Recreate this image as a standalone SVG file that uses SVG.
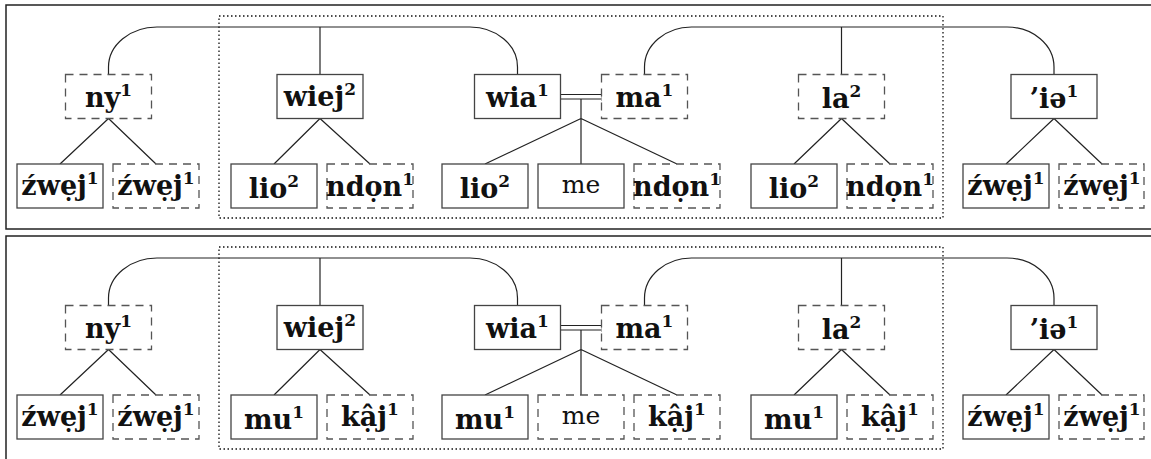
<svg xmlns="http://www.w3.org/2000/svg" width="1151" height="459" viewBox="0 0 1151 459">
<style>
.bg{fill:#fff}
.panel{fill:none;stroke:#222;stroke-width:1.5}
.group{fill:none;stroke:#111;stroke-width:1.3;stroke-dasharray:1.5 2.5}
.box{fill:#fff;stroke:#444;stroke-width:1.3}
.dash{fill:#fff;stroke:#555;stroke-width:1.3;stroke-dasharray:8 6}
.edge{fill:none;stroke:#222;stroke-width:1.2}
.lbl{font-family:"DejaVu Serif","Liberation Serif",serif;font-weight:bold;font-size:27px;text-anchor:middle;fill:#111}
.sup{font-size:17px}
.rm{font-family:"DejaVu Serif","Liberation Serif",serif;font-weight:normal;font-size:25px;text-anchor:middle;fill:#111}
</style>
<rect class="bg" width="1151" height="459"/>

<g id="panel-top">
<rect class="panel" x="6" y="5" width="1160" height="224"/>
<rect class="group" x="219" y="16" width="724" height="202"/>
<g id="edges-top">
<path class="edge" d="M108.5,74.5 V67 A48.5,40 0 0 1 157,27 H470 A47.5,40 0 0 1 517.5,67 V74.5"/>
<path class="edge" d="M320,27 V74.5"/>
<path class="edge" d="M644.5,74.5 V67 A47,40 0 0 1 691.5,27 H1007 A47,40 0 0 1 1054,67 V74.5"/>
<path class="edge" d="M841.5,27 V74.5"/>
<path class="edge" d="M561,94.5 H602 M561,99 H602 M602,92 V101"/>
<path class="edge" d="M108.5,118.5 L60,164 M108.5,118.5 L156,164"/>
<path class="edge" d="M320,118.5 L274,164 M320,118.5 L370,164"/>
<path class="edge" d="M581,99 V164 M581,118.5 L485,164 M581,118.5 L677,164"/>
<path class="edge" d="M841.5,118.5 L794,164 M841.5,118.5 L890,164"/>
<path class="edge" d="M1054,118.5 L1006,164 M1054,118.5 L1102,164"/>
</g>
<g id="t-ny" transform="translate(65.5,74.5)"><rect class="dash" width="86" height="44"/><text class="lbl" x="43" y="32.5">ny<tspan class="sup" dy="-11">1</tspan></text></g>
<g id="t-wiej" transform="translate(277,74.5)"><rect class="box" width="86" height="44"/><text class="lbl" x="43" y="31.5">wiej<tspan class="sup" dy="-11">2</tspan></text></g>
<g id="t-wia" transform="translate(474.5,74.5)"><rect class="box" width="86" height="44"/><text class="lbl" x="43" y="32.5">wia<tspan class="sup" dy="-11">1</tspan></text></g>
<g id="t-ma" transform="translate(601.5,74.5)"><rect class="dash" width="86" height="44"/><text class="lbl" x="43" y="32.5">ma<tspan class="sup" dy="-11">1</tspan></text></g>
<g id="t-la" transform="translate(798.5,74.5)"><rect class="dash" width="86" height="44"/><text class="lbl" x="43" y="33.5">la<tspan class="sup" dy="-11">2</tspan></text></g>
<g id="t-ie" transform="translate(1011,74.5)"><rect class="box" width="86" height="44"/><text class="lbl" x="43" y="33.5">’iə<tspan class="sup" dy="-11">1</tspan></text></g>

<g id="t-zwej1" transform="translate(17,164)"><rect class="box" width="86" height="44"/><text class="lbl" x="43" y="31">źwẹj<tspan class="sup" dy="-11">1</tspan></text></g>
<g id="t-zwej2" transform="translate(113,164)"><rect class="dash" width="86" height="44"/><text class="lbl" x="43" y="31">źwẹj<tspan class="sup" dy="-11">1</tspan></text></g>
<g id="t-lio1" transform="translate(231,164)"><rect class="box" width="86" height="44"/><text class="lbl" x="43" y="34">lio<tspan class="sup" dy="-11">2</tspan></text></g>
<g id="t-ndon1" transform="translate(327,164)"><rect class="dash" width="86" height="44"/><text class="lbl" x="43" y="32">ndọn<tspan class="sup" dy="-11">1</tspan></text></g>
<g id="t-lio2" transform="translate(442,164)"><rect class="box" width="86" height="44"/><text class="lbl" x="43" y="34">lio<tspan class="sup" dy="-11">2</tspan></text></g>
<g id="t-me" transform="translate(538,164)"><rect class="box" width="86" height="44"/><text class="rm" x="43" y="28.5">me</text></g>
<g id="t-ndon2" transform="translate(634,164)"><rect class="dash" width="86" height="44"/><text class="lbl" x="43" y="32">ndọn<tspan class="sup" dy="-11">1</tspan></text></g>
<g id="t-lio3" transform="translate(751,164)"><rect class="box" width="86" height="44"/><text class="lbl" x="43" y="34">lio<tspan class="sup" dy="-11">2</tspan></text></g>
<g id="t-ndon3" transform="translate(847,164)"><rect class="dash" width="86" height="44"/><text class="lbl" x="43" y="32">ndọn<tspan class="sup" dy="-11">1</tspan></text></g>
<g id="t-zwej3" transform="translate(963,164)"><rect class="box" width="86" height="44"/><text class="lbl" x="43" y="31">źwẹj<tspan class="sup" dy="-11">1</tspan></text></g>
<g id="t-zwej4" transform="translate(1059,164)"><rect class="dash" width="85" height="44"/><text class="lbl" x="43" y="31">źwẹj<tspan class="sup" dy="-11">1</tspan></text></g>
</g>

<g id="panel-bottom" transform="translate(0,231)">
<rect class="panel" x="6" y="5" width="1160" height="224"/>
<rect class="group" x="219" y="16" width="724" height="202"/>
<g id="edges-bottom">
<path class="edge" d="M108.5,74.5 V67 A48.5,40 0 0 1 157,27 H470 A47.5,40 0 0 1 517.5,67 V74.5"/>
<path class="edge" d="M320,27 V74.5"/>
<path class="edge" d="M644.5,74.5 V67 A47,40 0 0 1 691.5,27 H1007 A47,40 0 0 1 1054,67 V74.5"/>
<path class="edge" d="M841.5,27 V74.5"/>
<path class="edge" d="M561,94.5 H602 M561,99 H602 M602,92 V101"/>
<path class="edge" d="M108.5,118.5 L60,164 M108.5,118.5 L156,164"/>
<path class="edge" d="M320,118.5 L274,164 M320,118.5 L370,164"/>
<path class="edge" d="M581,99 V164 M581,118.5 L485,164 M581,118.5 L677,164"/>
<path class="edge" d="M841.5,118.5 L794,164 M841.5,118.5 L890,164"/>
<path class="edge" d="M1054,118.5 L1006,164 M1054,118.5 L1102,164"/>
</g>
<g id="b-ny" transform="translate(65.5,74.5)"><rect class="dash" width="86" height="44"/><text class="lbl" x="43" y="32.5">ny<tspan class="sup" dy="-11">1</tspan></text></g>
<g id="b-wiej" transform="translate(277,74.5)"><rect class="box" width="86" height="44"/><text class="lbl" x="43" y="31.5">wiej<tspan class="sup" dy="-11">2</tspan></text></g>
<g id="b-wia" transform="translate(474.5,74.5)"><rect class="box" width="86" height="44"/><text class="lbl" x="43" y="32.5">wia<tspan class="sup" dy="-11">1</tspan></text></g>
<g id="b-ma" transform="translate(601.5,74.5)"><rect class="dash" width="86" height="44"/><text class="lbl" x="43" y="32.5">ma<tspan class="sup" dy="-11">1</tspan></text></g>
<g id="b-la" transform="translate(798.5,74.5)"><rect class="dash" width="86" height="44"/><text class="lbl" x="43" y="33.5">la<tspan class="sup" dy="-11">2</tspan></text></g>
<g id="b-ie" transform="translate(1011,74.5)"><rect class="box" width="86" height="44"/><text class="lbl" x="43" y="33.5">’iə<tspan class="sup" dy="-11">1</tspan></text></g>

<g id="b-zwej1" transform="translate(17,164)"><rect class="box" width="86" height="44"/><text class="lbl" x="43" y="31">źwẹj<tspan class="sup" dy="-11">1</tspan></text></g>
<g id="b-zwej2" transform="translate(113,164)"><rect class="dash" width="86" height="44"/><text class="lbl" x="43" y="31">źwẹj<tspan class="sup" dy="-11">1</tspan></text></g>
<g id="b-mu1" transform="translate(231,164)"><rect class="box" width="86" height="44"/><text class="lbl" x="43" y="34">mu<tspan class="sup" dy="-11">1</tspan></text></g>
<g id="b-kaj1" transform="translate(327,164)"><rect class="dash" width="86" height="44"/><text class="lbl" x="43" y="31">kậj<tspan class="sup" dy="-11">1</tspan></text></g>
<g id="b-mu2" transform="translate(442,164)"><rect class="box" width="86" height="44"/><text class="lbl" x="43" y="34">mu<tspan class="sup" dy="-11">1</tspan></text></g>
<g id="b-me" transform="translate(538,164)"><rect class="dash" width="86" height="44"/><text class="rm" x="43" y="28.5">me</text></g>
<g id="b-kaj2" transform="translate(634,164)"><rect class="dash" width="86" height="44"/><text class="lbl" x="43" y="31">kậj<tspan class="sup" dy="-11">1</tspan></text></g>
<g id="b-mu3" transform="translate(751,164)"><rect class="box" width="86" height="44"/><text class="lbl" x="43" y="34">mu<tspan class="sup" dy="-11">1</tspan></text></g>
<g id="b-kaj3" transform="translate(847,164)"><rect class="dash" width="86" height="44"/><text class="lbl" x="43" y="31">kậj<tspan class="sup" dy="-11">1</tspan></text></g>
<g id="b-zwej3" transform="translate(963,164)"><rect class="box" width="86" height="44"/><text class="lbl" x="43" y="31">źwẹj<tspan class="sup" dy="-11">1</tspan></text></g>
<g id="b-zwej4" transform="translate(1059,164)"><rect class="dash" width="85" height="44"/><text class="lbl" x="43" y="31">źwẹj<tspan class="sup" dy="-11">1</tspan></text></g>
</g>
</svg>
